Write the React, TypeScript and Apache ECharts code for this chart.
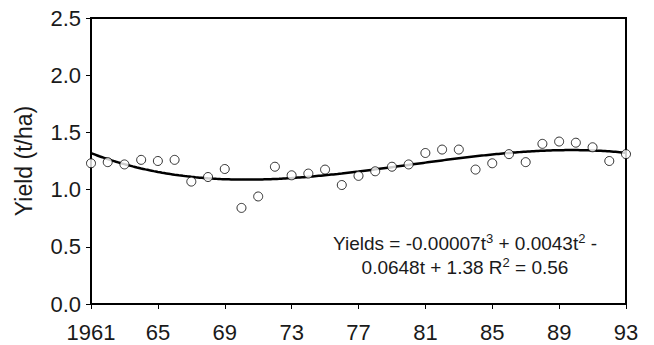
import React, { useEffect, useRef } from "react";
import * as echarts from "echarts";

// Yearly yield, 1961–1993 (t/ha)
const years: number[] = [
  1961, 1962, 1963, 1964, 1965, 1966, 1967, 1968, 1969, 1970, 1971,
  1972, 1973, 1974, 1975, 1976, 1977, 1978, 1979, 1980, 1981, 1982,
  1983, 1984, 1985, 1986, 1987, 1988, 1989, 1990, 1991, 1992, 1993,
];
const yields: number[] = [
  1.23, 1.24, 1.22, 1.26, 1.25, 1.26, 1.07, 1.11, 1.18, 0.84, 0.94,
  1.2, 1.125, 1.14, 1.175, 1.04, 1.12, 1.16, 1.2, 1.22, 1.32, 1.35,
  1.35, 1.175, 1.23, 1.31, 1.24, 1.4, 1.42, 1.41, 1.37, 1.25, 1.31,
];
const xTickLabels: string[] = ["1961", "65", "69", "73", "77", "81", "85", "89", "93"];
// Equation lines in rich-text markup; {s|..} marks a superscript
const equationLines: string[] = [
  "Yields = -0.00007t{s|3} + 0.0043t{s|2} -",
  "0.0648t + 1.38 R{s|2} = 0.56",
];

const FONT = "'Liberation Sans', Arial, Helvetica, sans-serif";

// Least-squares cubic through (t, y), t = 1..n as in a spreadsheet trendline
function fitCubic(ys: number[]): number[] {
  const n = 4;
  const A: number[][] = Array.from({ length: n }, () => new Array(n + 1).fill(0));
  ys.forEach((y, i) => {
    const t = i + 1;
    const pw = [1, t, t * t, t * t * t];
    for (let r = 0; r < n; r++) {
      for (let c = 0; c < n; c++) A[r][c] += pw[r] * pw[c];
      A[r][n] += pw[r] * y;
    }
  });
  for (let col = 0; col < n; col++) {
    let piv = col;
    for (let r = col + 1; r < n; r++) if (Math.abs(A[r][col]) > Math.abs(A[piv][col])) piv = r;
    [A[col], A[piv]] = [A[piv], A[col]];
    for (let r = 0; r < n; r++) {
      if (r === col) continue;
      const f = A[r][col] / A[col][col];
      for (let c = col; c <= n; c++) A[r][c] -= f * A[col][c];
    }
  }
  return A.map((row, i) => row[n] / row[i]);
}

export default function App() {
  const ref = useRef<HTMLDivElement>(null);

  useEffect(() => {
    if (!ref.current) return;
    const chart = echarts.init(ref.current, null, { renderer: "svg" });

    const offset = (yr: number) => yr - years[0];
    const points = years.map((yr, i) => [offset(yr), yields[i]]);

    const coef = fitCubic(yields);
    const trend: number[][] = [];
    for (let t = 1; t <= years.length + 1e-9; t += 0.25) {
      const v = coef[0] + coef[1] * t + coef[2] * t * t + coef[3] * t * t * t;
      trend.push([t - 1, v]);
    }

    chart.setOption({
      animation: false,
      backgroundColor: "#fff",
      grid: {
        left: 91,
        right: 28,
        top: 18,
        bottom: 41,
        show: true,
        borderColor: "#000",
        borderWidth: 2,
        backgroundColor: "transparent",
      },
      xAxis: {
        type: "value",
        min: 0,
        max: offset(years[years.length - 1]),
        interval: 4,
        splitLine: { show: false },
        axisLine: { show: true, onZero: false, lineStyle: { color: "#000", width: 2 } },
        axisTick: { show: true, length: 5, lineStyle: { color: "#000", width: 1 } },
        axisLabel: {
          margin: 17,
          color: "#1a1a1a",
          fontSize: 22,
          fontFamily: FONT,
          formatter: (v: number) => xTickLabels[Math.round(v / 4)] ?? "",
        },
      },
      yAxis: {
        type: "value",
        min: 0,
        max: 2.5,
        interval: 0.5,
        name: "Yield (t/ha)",
        nameLocation: "middle",
        nameGap: 56,
        nameTextStyle: { color: "#1a1a1a", fontSize: 23, fontFamily: FONT },
        splitLine: { show: false },
        axisLine: { show: true, lineStyle: { color: "#000", width: 2 } },
        axisTick: { show: true, length: 5, lineStyle: { color: "#000", width: 1 } },
        axisLabel: {
          margin: 10,
          color: "#1a1a1a",
          fontSize: 22,
          fontFamily: FONT,
          formatter: (v: number) => v.toFixed(1),
        },
      },
      series: [
        {
          type: "line",
          data: trend,
          showSymbol: false,
          smooth: true,
          lineStyle: { color: "#000", width: 2.5 },
          z: 2,
        },
        {
          type: "scatter",
          data: points,
          symbol: "circle",
          symbolSize: 9,
          itemStyle: { color: "#fff", borderColor: "#000", borderWidth: 1 },
          z: 3,
        },
      ],
      graphic: equationLines.map((line, i) => ({
        type: "text",
        x: 465,
        y: 243 + i * 24,
        style: {
          text: line,
          fill: "#1a1a1a",
          fontSize: 19,
          fontFamily: FONT,
          textAlign: "center",
          textVerticalAlign: "middle",
          lineHeight: 22,
          rich: {
            s: {
              fontSize: 13,
              fontFamily: FONT,
              fill: "#1a1a1a",
              lineHeight: 12,
              verticalAlign: "top",
            },
          },
        },
      })),
    });

    return () => chart.dispose();
  }, []);

  return (
    <div
      ref={ref}
      style={{ position: "fixed", left: 0, top: 0, width: 654, height: 345 }}
    />
  );
}
